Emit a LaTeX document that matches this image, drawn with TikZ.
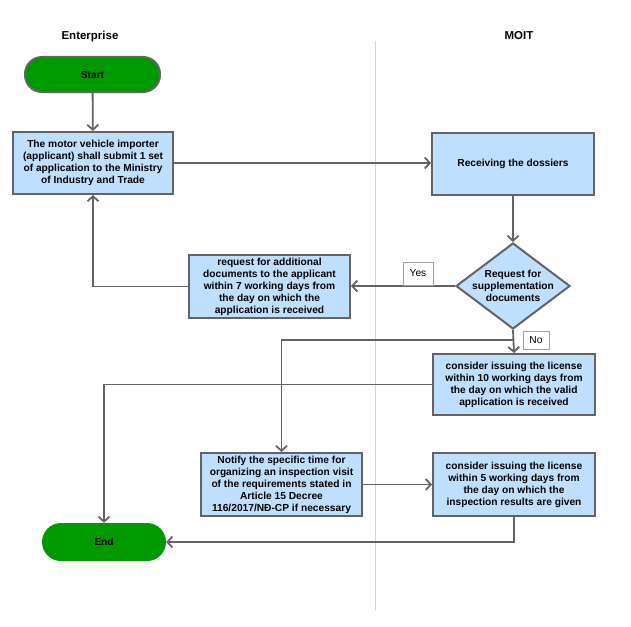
\documentclass[tikz,border=0pt]{standalone}
\usepackage{fontspec}
\setmainfont{Liberation Sans}
\usetikzlibrary{arrows.meta,shapes.geometric}
\definecolor{lgray}{HTML}{636363}
\definecolor{boxblue}{HTML}{BFDFFF}
\definecolor{sgreen}{HTML}{009900}
\definecolor{lanecol}{HTML}{CFCFFF}
\begin{document}
\begin{tikzpicture}[x=1pt,y=-1pt,
  txt/.style={font=\fontsize{10.2}{12}\selectfont\bfseries, align=center},
  proc/.style={txt, draw=lgray, line width=2pt, fill=boxblue, minimum width=161pt, minimum height=62pt, inner sep=0pt},
  term/.style={txt, fill=sgreen, inner sep=0pt},
  conn/.style={draw=lgray, line width=1.8pt, -{Straight Barb[length=5pt,width=11pt]}},
  lbl/.style={draw=lgray!60, fill=white, line width=0.7pt, font=\fontsize{10.2}{12}\selectfont, inner sep=0pt},
  title/.style={font=\fontsize{11.5}{14}\selectfont\bfseries}]
\useasboundingbox (0,0) rectangle (631,626);
\draw[lanecol, line width=1pt] (375,41) -- (375,610);
\node[title] (hEnt) at (90,37) {Enterprise};
\node[title] (hMoit) at (519,36) {MOIT};

\node[term, draw=lgray, line width=2pt, rounded corners=17pt, minimum width=135pt, minimum height=35pt] (start) at (92.5,74.5) {Start};
\node[proc, minimum width=160pt] (sub) at (93,163) {The motor vehicle importer\\(applicant) shall submit 1 set\\of application to the Ministry\\of Industry and Trade};
\node[proc, minimum width=162pt] (rec) at (513,164) {Receiving the dossiers};
\node[diamond, draw=lgray, line width=2pt, fill=boxblue, minimum width=114pt, minimum height=86pt, inner sep=0pt] (dia) at (513,286) {};
\node[txt] (diatext) at (dia.center) {Request for\\supplementation\\documents};
\node[proc, minimum height=63pt] (req) at (269.5,286.5) {request for additional\\documents to the applicant\\within 7 working days from\\the day on which the\\application is received};
\node[proc, minimum width=162pt, minimum height=61pt] (c10) at (514,384.5) {consider issuing the license\\within 10 working days from\\the day on which the valid\\application is received};
\node[proc, minimum height=63pt] (notify) at (281.5,484.5) {Notify the specific time for\\organizing an inspection visit\\of the requirements stated in\\Article 15 Decree\\116/2017/NĐ-CP if necessary};
\node[proc, minimum width=162pt, minimum height=63pt] (c5) at (514,484.5) {consider issuing the license\\within 5 working days from\\the day on which the\\inspection results are given};
\node[term, rounded corners=19pt, minimum width=124pt, minimum height=38pt] (end) at (104,542) {End};

\coordinate (split) at (513,340);
\draw[conn] (start) -- (sub);
\draw[conn] (sub.east) -- (sub.east -| rec.west);
\draw[conn] (rec) -- (dia);
\draw[conn] (dia.west) -- (dia.west -| req.east);
\draw[conn] (req.west) -| (sub.south);
\draw[conn] (dia.south) -- (c10.north);
\draw[conn] (split) -| (notify.north);
\draw[conn] (c10.west) -| (end.north);
\draw[conn] (notify.east) -- (notify.east -| c5.west);
\draw[conn] (c5.south) |- (end.east);

\node[lbl, minimum width=30pt, minimum height=23pt] (yes) at (418,273.5) {Yes};
\node[lbl, minimum width=26pt, minimum height=18pt] (no) at (536,340) {No};
\end{tikzpicture}
\end{document}
